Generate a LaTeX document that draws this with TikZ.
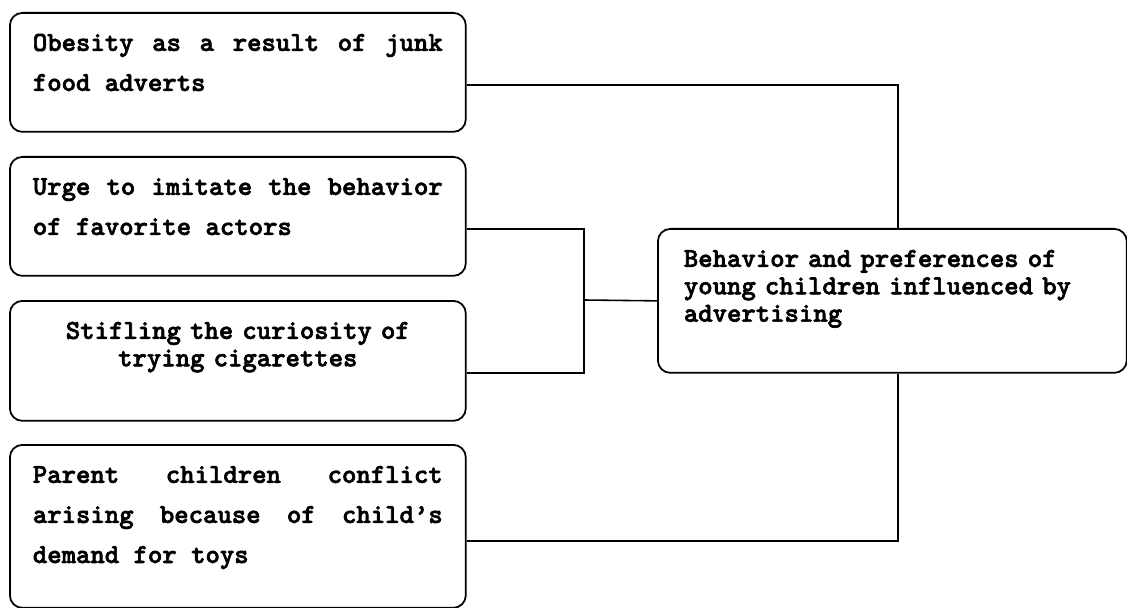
\documentclass[tikz,border=0pt]{standalone}
\usepackage{fontspec}
\newfontfamily\boxface{lmmonolt10-bold.otf}[FakeBold=2.2]
\newcommand{\boxfont}[1]{\boxface\bfseries\fontsize{15.6pt}{#1}\selectfont
  \fontdimen3\font=6pt \fontdimen4\font=0pt
  \hyphenpenalty=10000 \tolerance=10000}
\begin{document}
\begin{tikzpicture}[x=0.02cm, y=-0.02cm,
        box/.style={draw, rounded corners=0.25cm, line width=1pt,
                    anchor=north west, text width=8.2cm,
                    inner sep=0.46cm, text height=0.3cm},
        wide/.style={box, align=justify, font=\boxfont{22.8pt}},
        narrow/.style={box, font=\boxfont{15.6pt}},
        link/.style={line width=0.9pt}
    ]
    \useasboundingbox (0,0) rectangle (1127,608);

        % Causas a la izquierda
        \node[wide, text depth=1.16cm] (obesity) at (9,12) {Obesity as a result of junk food adverts};
        \node[wide, text depth=1.16cm] (imitate) at (9,156) {Urge to imitate the behavior of favorite actors};
        \node[narrow, align=center, text depth=1.18cm] (cigarettes) at (9,300) {Stifling the curiosity of\\ trying cigarettes};
        \node[wide, text depth=2.04cm] (conflict) at (9,444) {Parent children conflict arising because of child’s demand for toys};

        % Bloque central a la derecha
        \node[narrow, align=left, text width=8.34cm, inner xsep=0.52cm, text depth=1.66cm] (behavior) at (657,228) {Behavior and preferences of\\ young children influenced by\\ advertising};

        % Conexiones
        \coordinate (merge) at (584,300);
        \draw[link] ([yshift=-0.25cm]obesity.east) -| ([xshift=0.11cm]behavior.north);
        \draw[link] ([yshift=-0.25cm]imitate.east) -| (merge) |- ([yshift=-0.24cm]cigarettes.east);
        \draw[link] (merge) -- (behavior.west);
        \draw[link] ([yshift=-0.29cm]conflict.east) -| ([xshift=0.11cm]behavior.south);

    \end{tikzpicture}
\end{document}
